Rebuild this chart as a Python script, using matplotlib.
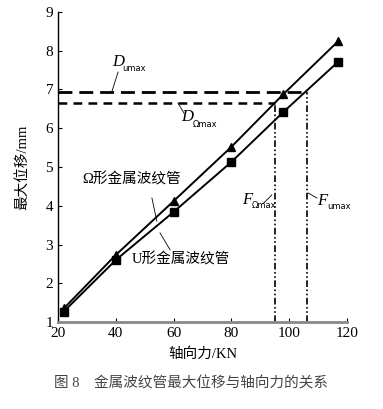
import matplotlib.pyplot as plt

plt.rcParams['font.family'] = ['Liberation Serif', 'Noto Sans CJK SC']

# 数据
force = [22, 40, 60, 80, 98, 117]
disp_omega = [1.35, 2.73, 4.12, 5.52, 6.88, 8.25]   # Ω形
disp_u = [1.27, 2.60, 3.84, 5.13, 6.42, 7.72]       # U形

d_umax = 6.94
d_omax = 6.65
f_umax = 106.0
f_omax = 95.2

x_ticks = [20, 40, 60, 80, 100, 120]
y_ticks = [1, 2, 3, 4, 5, 6, 7, 8, 9]

fig = plt.figure(figsize=(3.83, 4.09), dpi=100)
ax = fig.add_axes([0.1514, 0.2127, 0.7546, 0.758])

ax.plot(force, disp_omega, color='black', lw=1.4, marker='^', ms=6)
ax.plot(force, disp_u, color='black', lw=1.4, marker='s', ms=6)

# 最大位移水平虚线
ax.plot([20, f_umax], [d_umax, d_umax], color='black', lw=2, dashes=(5, 2.5))
ax.plot([20, f_omax], [d_omax, d_omax], color='black', lw=1.8, dashes=(3.5, 2.5))
# 对应的轴向力竖线
ax.plot([f_umax, f_umax], [1, d_umax], color='black', lw=1.2, dashes=(4, 1.5, 1, 1.5, 1, 1.5))
ax.plot([f_omax, f_omax], [1, d_omax], color='black', lw=1.2, dashes=(4, 1.5, 1, 1.5, 1, 1.5))

ax.set_xlim(20, 120)
ax.set_ylim(1, 9)
ax.set_xticks(x_ticks)
ax.set_yticks(y_ticks)
ax.tick_params(direction='in', length=3, labelsize=11, width=0.8)
ax.spines['top'].set_visible(False)
ax.spines['right'].set_visible(False)
ax.spines['bottom'].set_color('#888888')
ax.spines['bottom'].set_linewidth(2)
ax.spines['left'].set_linewidth(1)

ax.set_xlabel('轴向力/KN', fontsize=10.5, labelpad=5)
ax.set_ylabel('最大位移/mm', fontsize=10.5, labelpad=12)

# 曲线标注
ax.text(28.3, 4.67, 'Ω形金属波纹管', fontsize=10.5, va='center', ha='left')
ax.plot([52.5, 54.2], [4.2, 3.6], color='black', lw=0.6)
ax.text(45.5, 2.62, 'U形金属波纹管', fontsize=10.5, va='center', ha='left')
ax.plot([55.3, 58.8], [3.3, 2.86], color='black', lw=0.6)

lab = dict(fontsize=12, fontstyle='italic', family='Liberation Serif', ha='left', va='center')
sub = dict(fontsize=6, family='DejaVu Sans', ha='left', va='center')

ax.text(38.6, 7.72, 'D', **lab)
ax.text(42.4, 7.55, 'umax', **sub)
ax.plot([40.8, 38.7], [7.45, 6.96], color='black', lw=0.6)

ax.text(62.8, 6.28, 'D', **lab)
ax.text(66.6, 6.1, 'Ωmax', **sub)
ax.plot([61.5, 63.6], [6.65, 6.39], color='black', lw=0.6)

ax.text(83.6, 4.14, 'F', **lab)
ax.text(86.9, 4.0, 'Ωmax', **sub)
ax.plot([90.9, 94.0], [4.05, 4.28], color='black', lw=0.6)

ax.text(109.6, 4.12, 'F', **lab)
ax.text(113.0, 3.97, 'umax', **sub)
ax.plot([106.5, 109.6], [4.33, 4.2], color='black', lw=0.6)

fig.text(0.5, 0.063, '图 8    金属波纹管最大位移与轴向力的关系', fontsize=10.5,
         ha='center', va='center', color='#444444')

fig.savefig('out.png', dpi=100)
